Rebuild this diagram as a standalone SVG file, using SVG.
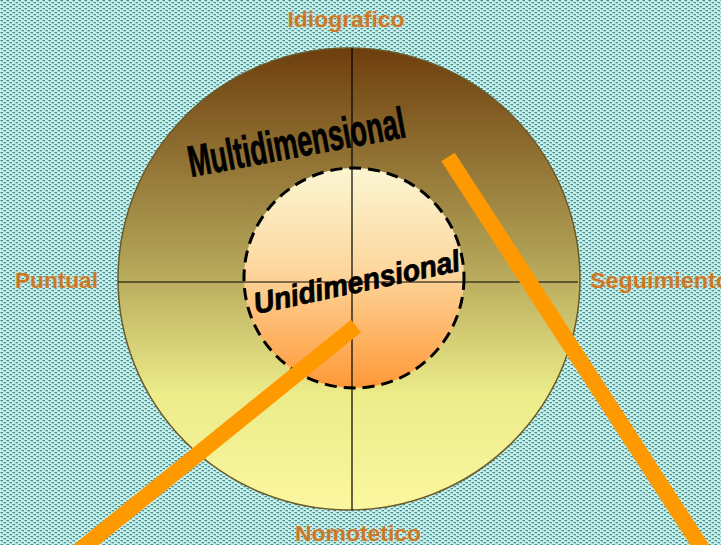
<svg xmlns="http://www.w3.org/2000/svg" width="721" height="545" viewBox="0 0 721 545">
<defs>
<pattern id="bg" width="6" height="4" patternUnits="userSpaceOnUse">
<rect width="6" height="4" fill="#c6f3ef"/>
<rect x="0.5" y="0" width="2.5" height="1.3" fill="#4a8a86"/>
<rect x="3.5" y="2" width="2.5" height="1.3" fill="#4a8a86"/>
</pattern>
<linearGradient id="outer" x1="0" y1="0" x2="0" y2="1">
<stop offset="0" stop-color="#6e3e0e"/>
<stop offset="0.45" stop-color="#b0a055"/>
<stop offset="0.75" stop-color="#ecec8a"/>
<stop offset="1" stop-color="#fbf7a0"/>
</linearGradient>
<linearGradient id="inner" x1="0" y1="0" x2="0" y2="1">
<stop offset="0" stop-color="#fbf6d2"/>
<stop offset="0.45" stop-color="#fdd8a0"/>
<stop offset="1" stop-color="#ff9838"/>
</linearGradient>
<style>
.lbl{font-family:"Liberation Sans",Arial,sans-serif;font-weight:bold;font-size:22px;fill:#c8782a;stroke:#f3dcae;stroke-width:0.7px;paint-order:stroke}
.big{font-family:"Liberation Sans",Arial,sans-serif;font-weight:bold;fill:#000;stroke:#000;stroke-width:0.8px}
.axis{stroke:#000;stroke-width:1.2;fill:none}
.conn{stroke:#ff9900;stroke-width:16;fill:none}
</style>
</defs>
<rect width="721" height="545" fill="url(#bg)"/>
<g id="outer-circle">
<circle cx="349" cy="279" r="231" fill="url(#outer)" stroke="#6a5a28" stroke-width="1.5"/>
</g>
<g id="inner-circle">
<circle cx="354" cy="278" r="110" fill="url(#inner)" stroke="#000" stroke-width="3" stroke-dasharray="12,7"/>
</g>
<g id="axes">
<line class="axis" x1="352" y1="48" x2="352" y2="510"/>
<line class="axis" x1="118" y1="282" x2="578" y2="282"/>
</g>
<g id="multidimensional">
<text class="big" font-size="44" transform="translate(191,177) rotate(-10.5)" textLength="220" lengthAdjust="spacingAndGlyphs">Multidimensional</text>
</g>
<g id="unidimensional">
<text class="big" font-size="30" font-style="italic" transform="translate(256,314) rotate(-12)" textLength="210" lengthAdjust="spacingAndGlyphs">Unidimensional</text>
</g>
<g id="labels">
<text class="lbl" x="346" y="27" text-anchor="middle" textLength="117" lengthAdjust="spacingAndGlyphs">Idiografico</text>
<text class="lbl" x="15" y="288" textLength="83" lengthAdjust="spacingAndGlyphs">Puntual</text>
<text class="lbl" x="590" y="288" textLength="140" lengthAdjust="spacingAndGlyphs">Seguimiento</text>
<text class="lbl" x="358" y="541" text-anchor="middle" textLength="126" lengthAdjust="spacingAndGlyphs">Nomotetico</text>
</g>
<g id="connectors">
<line class="conn" x1="356" y1="326" x2="76" y2="553"/>
<line class="conn" x1="448" y1="157" x2="705" y2="553"/>
</g>
</svg>
